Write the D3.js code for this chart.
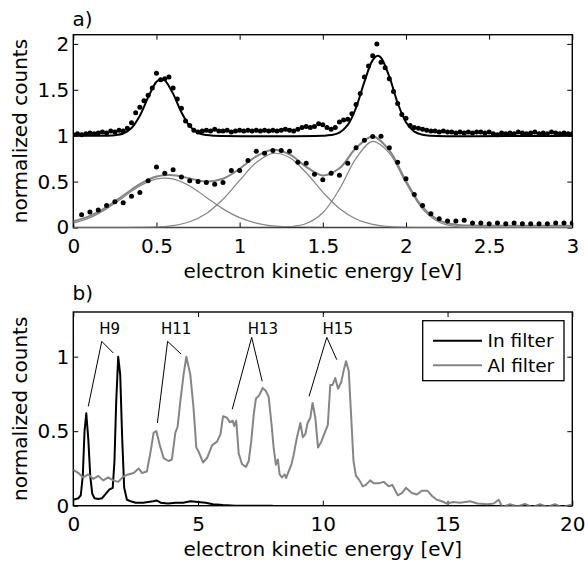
<!DOCTYPE html>
<html lang="en">
<head>
<meta charset="UTF-8">
<title>electron spectra</title>
<script src="https://cdn.jsdelivr.net/npm/d3@7/dist/d3.min.js"></script>
<style>
  body { margin: 0; background: #fff; }
  svg text { font-family: "DejaVu Sans", sans-serif; fill: #000; }
</style>
</head>
<body>
<script>
// ---- panel a) upper trace (points + black fit) ----
var upperE = [0,0.025,0.05,0.075,0.1,0.125,0.15,0.175,0.2,0.225,0.25,0.275,0.3,0.325,0.35,0.375,0.4,0.425,0.45,0.475,
    0.5,0.525,0.55,0.575,0.6,0.625,0.65,0.675,0.7,0.725,0.75,0.775,0.8,0.825,0.85,0.875,0.9,0.925,0.95,0.975,
    1,1.025,1.05,1.075,1.1,1.125,1.15,1.175,1.2,1.225,1.25,1.275,1.3,1.325,1.35,1.375,1.4,1.425,1.45,1.475,
    1.5,1.525,1.55,1.575,1.6,1.625,1.65,1.675,1.7,1.725,1.75,1.775,1.8,1.825,1.85,1.875,1.9,1.925,1.95,1.975,
    2,2.025,2.05,2.075,2.1,2.125,2.15,2.175,2.2,2.225,2.25,2.275,2.3,2.325,2.35,2.375,2.4,2.425,2.45,2.475,
    2.5,2.525,2.55,2.575,2.6,2.625,2.65,2.675,2.7,2.725,2.75,2.775,2.8,2.825,2.85,2.875,2.9,2.925,2.95,2.975,3];
var upperN = [1.01,1.02,1.01,1.02,1.03,1.02,1.03,1.04,1.03,1.05,1.04,1.06,1.05,1.08,1.14,1.25,1.31,1.38,1.44,1.52,
    1.68,1.61,1.62,1.64,1.52,1.40,1.30,1.16,1.11,1.06,1.04,1.05,1.06,1.05,1.07,1.05,1.05,1.06,1.04,1.05,
    1.06,1.05,1.06,1.05,1.06,1.05,1.06,1.05,1.06,1.05,1.06,1.07,1.06,1.05,1.07,1.09,1.10,1.09,1.10,1.13,
    1.12,1.09,1.07,1.09,1.15,1.17,1.18,1.24,1.34,1.46,1.64,1.76,1.87,2.00,1.80,1.74,1.62,1.48,1.35,1.23,
    1.19,1.11,1.09,1.08,1.07,1.06,1.05,1.05,1.04,1.05,1.04,1.04,1.03,1.04,1.03,1.04,1.03,1.04,1.04,1.03,
    1.04,1.02,1.01,1.03,1.02,1.03,1.02,1.04,1.03,1.02,1.03,1.04,1.02,1.03,1.02,1.04,1.03,1.02,1.03,1.02,1.02];
var upperFitE = [0,0.2,0.25,0.3,0.35,0.4,0.45,0.5,0.53,0.55,0.6,0.65,0.7,0.75,0.8,0.85,
    1.5,1.55,1.6,1.65,1.7,1.75,1.8,1.83,1.85,1.9,1.95,2,2.05,2.1,2.15,3];
var upperFitN = [1.0,1.0,1.005,1.024,1.084,1.218,1.418,1.587,1.62,1.605,1.458,1.255,1.104,1.031,1.007,1.0,
    1.0,1.007,1.033,1.117,1.306,1.586,1.823,1.87,1.849,1.643,1.358,1.146,1.044,1.01,1.0,1.0];

// ---- panel a) lower trace (points + grey fit and its three components) ----
var lowerE = [0.05,0.1,0.15,0.2,0.25,0.3,0.35,0.4,0.45,0.5,0.55,0.6,0.65,0.7,0.75,0.8,0.85,0.9,0.95,1,
    1.05,1.1,1.15,1.2,1.25,1.3,1.35,1.4,1.45,1.5,1.55,1.6,1.65,1.7,1.75,1.8,1.85,1.9,1.95,2,
    2.05,2.1,2.15,2.2,2.25,2.3,2.35,2.4,2.45,2.5,2.55,2.6,2.65,2.7,2.75,2.8,2.85,2.9,2.95,3];
var lowerN = [0.14,0.17,0.19,0.24,0.28,0.27,0.34,0.38,0.51,0.66,0.59,0.63,0.55,0.51,0.50,0.49,0.47,0.49,0.62,0.62,
    0.73,0.83,0.81,0.84,0.84,0.83,0.71,0.70,0.58,0.52,0.59,0.57,0.70,0.87,0.95,0.99,0.995,0.87,0.71,0.53,
    0.36,0.24,0.15,0.095,0.07,0.07,0.08,0.05,0.05,0.04,0.05,0.04,0.05,0.04,0.04,0.04,0.04,0.05,0.05,0.05];
var fitE = [0,0.1,0.2,0.3,0.4,0.5,0.6,0.7,0.8,0.9,1,1.1,1.2,1.3,1.4,1.5,1.6,1.7,1.8,1.9,2,
    2.1,2.2,2.3,2.4,2.5,2.6,2.7,2.8,2.9,3];
var comp1 = [0.048,0.107,0.203,0.328,0.451,0.529,0.529,0.451,0.328,0.203,0.107,0.048,0.018,0.006,0.002,0,
    0,0,0,0,0,0,0,0,0,0,0,0,0,0,0];
var comp2 = [0,0,0,0,0.001,0.006,0.021,0.063,0.153,0.308,0.513,0.707,0.807,0.762,0.596,0.386,0.207,0.092,0.034,0.010,0.003,
    0,0,0,0,0,0,0,0,0,0];
var comp3 = [0,0,0,0,0,0,0,0,0,0,0,0,0.001,0.008,0.043,0.161,0.418,0.753,0.938,0.810,0.484,
    0.201,0.058,0.011,0.002,0,0,0,0,0,0];
var sumFit = [0.068,0.127,0.223,0.348,0.472,0.555,0.570,0.534,0.501,0.531,0.640,0.775,0.846,0.796,0.661,0.567,
    0.645,0.865,0.992,0.840,0.507,0.221,0.078,0.031,0.022,0.02,0.02,0.02,0.02,0.02,0.02];

// ---- panel b) spectra ----
var inE = [0,0.2,0.3,0.38,0.45,0.52,0.6,0.68,0.76,0.85,1.0,1.15,1.3,1.45,1.58,1.65,1.72,1.8,1.88,1.96,
    2.04,2.15,2.3,2.5,2.8,3.0,3.2,3.35,3.5,3.8,4.1,4.4,4.7,5.0,5.3,5.6,6.0,6.5,7.0,8.0];
var inN = [0.04,0.05,0.07,0.2,0.5,0.62,0.45,0.2,0.08,0.05,0.045,0.05,0.08,0.11,0.12,0.3,0.7,1.0,0.88,0.45,
    0.12,0.04,0.03,0.02,0.02,0.025,0.03,0.035,0.02,0.015,0.02,0.02,0.03,0.025,0.02,0.01,0.004,0,0,0];
var alE = [0,0.2,0.4,0.6,0.8,1.0,1.2,1.4,1.6,1.8,2.0,2.2,2.42,2.62,2.75,2.95,3.1,3.22,3.33,3.46,3.62,3.82,3.95,
    4.09,4.18,4.29,4.42,4.53,4.69,4.82,4.93,5.03,5.2,5.36,5.56,5.76,5.9,6.0,6.16,6.27,6.39,6.45,6.53,
    6.63,6.76,6.92,7.03,7.13,7.23,7.32,7.45,7.59,7.72,7.83,7.94,8.03,8.12,8.2,8.27,8.36,8.47,8.53,8.63,8.74,8.83,8.96,
    9.1,9.2,9.3,9.39,9.5,9.59,9.7,9.81,9.94,10.08,10.2,10.3,10.39,10.5,10.61,10.74,10.84,10.93,11.04,11.14,11.23,11.33,
    11.47,11.6,11.73,11.9,12.04,12.24,12.44,12.64,12.78,13.01,13.17,13.33,13.57,13.77,13.97,14.2,14.38,14.57,14.77,14.97,
    15.24,15.5,15.9,16.2,16.6,16.85,17.05,17.2,17.5,17.8,18.1,18.4,18.7,19.0,19.3,19.6,20.0];
var alN = [0.24,0.22,0.19,0.21,0.18,0.2,0.17,0.19,0.17,0.16,0.195,0.21,0.22,0.25,0.22,0.23,0.365,0.49,0.5,0.41,0.32,0.3,0.31,
    0.49,0.53,0.7,0.88,1.0,0.88,0.655,0.39,0.36,0.29,0.32,0.405,0.43,0.48,0.6,0.59,0.56,0.57,0.535,0.57,
    0.35,0.28,0.26,0.3,0.43,0.61,0.72,0.74,0.79,0.77,0.73,0.555,0.39,0.275,0.31,0.21,0.19,0.21,0.185,0.23,0.275,0.34,0.455,
    0.555,0.46,0.48,0.555,0.59,0.69,0.59,0.39,0.43,0.49,0.54,0.81,0.81,0.857,0.785,0.83,0.91,0.97,0.905,0.59,0.3,0.2,
    0.17,0.13,0.14,0.17,0.15,0.15,0.16,0.13,0.14,0.07,0.085,0.12,0.085,0.075,0.1,0.1,0.065,0.04,0.03,0.015,
    0.025,0.02,0.03,0.015,0.01,0.015,0.04,-0.01,0.01,-0.005,0.012,-0.01,0.01,-0.008,0.01,-0.01,0.008];

// harmonic labels (data coordinates of panel b)
var harmNames = ["H9", "H11", "H13", "H15"];
var harmLabelE = [1.46, 4.12, 7.6, 10.6];
var harmApexE = [1.14, 3.78, 7.15, 10.16], harmApexN = [1.103, 1.103, 1.13, 1.13];
var harmLeftE = [0.60, 3.37, 6.37, 9.45], harmLeftN = [0.667, 0.555, 0.647, 0.734];
var harmRightE = [1.60, 4.32, 7.57, 10.56], harmRightN = [1.025, 1.018, 0.835, 0.98];

var ticksA_x = [0, 0.5, 1, 1.5, 2, 2.5, 3], ticksA_y = [0, 0.5, 1, 1.5, 2];
var ticksB_x = [0, 5, 10, 15, 20], ticksB_y = [0, 0.5, 1];
var legendNames = ["In filter", "Al filter"];

var w = 585, h = 561;
var grey = "#858585";
var svg = d3.select("body").append("svg").attr("width", w).attr("height", h);
var defs = svg.append("defs");

var left = 73.3, right = 572.3;

function makePanel(id, top, bottom, xDom, yDom, xt, yt, pad) {
    var x = d3.scaleLinear().domain(xDom).range([left, right]);
    var y = d3.scaleLinear().domain(yDom).range([bottom, top]);
    defs.append("clipPath").attr("id", id).append("rect")
        .attr("x", left).attr("y", top).attr("width", right - left).attr("height", bottom - top);

    var ax = svg.append("g").attr("transform", "translate(0," + bottom + ")")
        .call(d3.axisBottom(x).tickValues(xt).tickSize(-5).tickPadding(pad).tickFormat(d3.format("~g")));
    var ay = svg.append("g").attr("transform", "translate(" + left + ",0)")
        .call(d3.axisLeft(y).tickValues(yt).tickSize(-5).tickPadding(4).tickFormat(d3.format("~g")));
    var at = svg.append("g").attr("transform", "translate(0," + top + ")")
        .call(d3.axisTop(x).tickValues(xt).tickSize(-5).tickFormat(""));
    var ar = svg.append("g").attr("transform", "translate(" + right + ",0)")
        .call(d3.axisRight(y).tickValues(yt).tickSize(-5).tickFormat(""));
    [ax, ay, at, ar].forEach(function(g) {
        g.select(".domain").remove();
        g.attr("font-size", null).attr("font-family", null);
        g.selectAll("line").attr("stroke", "#000").attr("stroke-width", 1);
        g.selectAll("text").style("font-size", "20px");
    });
    svg.append("rect").attr("x", left).attr("y", top)
        .attr("width", right - left).attr("height", bottom - top)
        .attr("fill", "none").attr("stroke", "#000").attr("stroke-width", 1.4);

    var plot = svg.append("g").attr("clip-path", "url(#" + id + ")");
    return { x: x, y: y, plot: plot };
}

function lineOf(p, xs, ys, curve) {
    return d3.line()
        .x(function(d, i) { return p.x(xs[i]); })
        .y(function(d, i) { return p.y(ys[i]); })
        .curve(curve || d3.curveLinear)(ys);
}

// ---------- panel a ----------
var pa = makePanel("clipA", 34.7, 227.5, [0, 3], [0, 2.1], ticksA_x, ticksA_y, 11);
var smooth = d3.curveCatmullRom.alpha(0.5);

[comp1, comp2, comp3].forEach(function(c) {
    pa.plot.append("path").attr("d", lineOf(pa, fitE, c, smooth))
        .attr("fill", "none").attr("stroke", grey).attr("stroke-width", 1.2);
});
pa.plot.append("path").attr("d", lineOf(pa, fitE, sumFit, smooth))
    .attr("fill", "none").attr("stroke", grey).attr("stroke-width", 2);

pa.plot.selectAll("circle.low").data(lowerN).enter().append("circle")
    .attr("class", "low")
    .attr("cx", function(d, i) { return pa.x(lowerE[i]); })
    .attr("cy", function(d) { return pa.y(d); })
    .attr("r", 2.5).attr("fill", "#000");

pa.plot.selectAll("circle.up").data(upperN).enter().append("circle")
    .attr("class", "up")
    .attr("cx", function(d, i) { return pa.x(upperE[i]); })
    .attr("cy", function(d) { return pa.y(d); })
    .attr("r", 2.5).attr("fill", "#000");

pa.plot.append("path").attr("d", lineOf(pa, upperFitE, upperFitN, smooth))
    .attr("fill", "none").attr("stroke", "#000").attr("stroke-width", 2);

// ---------- panel b ----------
var pb = makePanel("clipB", 312, 505.7, [0, 20], [0, 1.3], ticksB_x, ticksB_y, 11);

pb.plot.append("path").attr("d", lineOf(pb, inE, inN))
    .attr("fill", "none").attr("stroke", "#000").attr("stroke-width", 2).attr("stroke-linejoin", "round");
pb.plot.append("path").attr("d", lineOf(pb, alE, alN))
    .attr("fill", "none").attr("stroke", grey).attr("stroke-width", 2).attr("stroke-linejoin", "round");

// harmonic annotations
harmNames.forEach(function(name, i) {
    var pts = [[harmLeftE[i], harmLeftN[i]], [harmApexE[i], harmApexN[i]], [harmRightE[i], harmRightN[i]]];
    svg.append("path")
        .attr("d", d3.line().x(function(d) { return pb.x(d[0]); }).y(function(d) { return pb.y(d[1]); })(pts))
        .attr("fill", "none").attr("stroke", "#000").attr("stroke-width", 1);
    svg.append("text").attr("x", pb.x(harmLabelE[i])).attr("y", pb.y(1.15))
        .attr("text-anchor", "middle").style("font-size", "15px").text(name);
});

// legend
var lg = svg.append("g");
lg.append("rect").attr("x", 422.7).attr("y", 320.7).attr("width", 141.3).attr("height", 60)
    .attr("fill", "#fff").attr("stroke", "#000").attr("stroke-width", 1.3);
legendNames.forEach(function(name, i) {
    var yy = 340.7 + i * 24.6;
    lg.append("line").attr("x1", 433).attr("x2", 482).attr("y1", yy).attr("y2", yy)
        .attr("stroke", i === 0 ? "#000" : grey).attr("stroke-width", 2);
    lg.append("text").attr("x", 487.5).attr("y", yy + 6.5).style("font-size", "18.5px").text(name);
});

// panel letters and axis titles
svg.append("text").attr("x", 72.5).attr("y", 26).style("font-size", "20px").text("a)");
svg.append("text").attr("x", 72.5).attr("y", 300).style("font-size", "20px").text("b)");

[[34.7, 227.5, 278], [312, 505.7, 556]].forEach(function(b) {
    svg.append("text").attr("x", (left + right) / 2).attr("y", b[2])
        .attr("text-anchor", "middle").style("font-size", "20px")
        .text("electron kinetic energy [eV]");
    svg.append("text")
        .attr("transform", "translate(27," + ((b[0] + b[1]) / 2) + ") rotate(-90)")
        .attr("text-anchor", "middle").style("font-size", "20px")
        .text("normalized counts");
});
</script>
</body>
</html>
